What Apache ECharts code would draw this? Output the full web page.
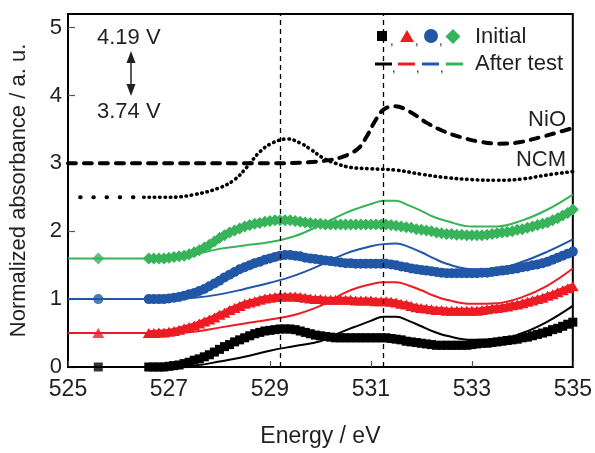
<!DOCTYPE html>
<html>
<head>
<meta charset="utf-8">
<script src="https://cdn.jsdelivr.net/npm/echarts@6/dist/echarts.min.js"></script>
<style>
html,body{margin:0;padding:0;background:#fff;}
#chart{width:595px;height:453px;}
</style>
</head>
<body>
<div id="chart"></div>
<script>
// ---------- data ----------
const energyInitial = [
  526.6,526.7,526.8,526.9,527.0,527.1,527.2,527.3,527.4,527.5,
  527.6,527.7,527.8,527.9,528.0,528.1,528.2,528.3,528.4,528.5,
  528.6,528.7,528.8,528.9,529.0,529.1,529.2,529.3,529.4,529.5,
  529.6,529.7,529.8,529.9,530.0,530.1,530.2,530.3,530.4,530.5,
  530.6,530.7,530.8,530.9,531.0,531.1,531.2,531.3,531.4,531.5,
  531.6,531.7,531.8,531.9,532.0,532.1,532.2,532.3,532.4,532.5,
  532.6,532.7,532.8,532.9,533.0,533.1,533.2,533.3,533.4,533.5,
  533.6,533.7,533.8,533.9,534.0,534.1,534.2,534.3,534.4,534.5,
  534.6,534.7,534.8,534.9,535.0];
const initialBlack = [
  0.00,0.00,0.00,0.00,0.01,0.02,0.03,0.05,0.07,0.10,
  0.12,0.15,0.18,0.22,0.26,0.30,0.33,0.37,0.40,0.43,
  0.46,0.49,0.51,0.53,0.54,0.55,0.56,0.56,0.56,0.55,
  0.53,0.51,0.49,0.47,0.46,0.45,0.44,0.43,0.43,0.43,
  0.43,0.43,0.43,0.43,0.43,0.43,0.43,0.43,0.42,0.41,
  0.40,0.38,0.37,0.36,0.35,0.34,0.33,0.32,0.32,0.32,
  0.32,0.32,0.32,0.32,0.33,0.34,0.35,0.35,0.36,0.37,
  0.38,0.39,0.40,0.41,0.43,0.44,0.46,0.48,0.50,0.52,
  0.55,0.57,0.60,0.63,0.66];
const initialRed = [
  0.50,0.50,0.51,0.51,0.52,0.53,0.55,0.57,0.59,0.61,
  0.64,0.67,0.70,0.73,0.77,0.80,0.84,0.87,0.90,0.93,
  0.95,0.97,0.99,1.01,1.02,1.03,1.04,1.04,1.04,1.04,
  1.03,1.02,1.01,1.00,1.00,0.99,0.99,0.99,0.99,0.99,
  0.99,0.98,0.98,0.98,0.98,0.97,0.97,0.97,0.96,0.95,
  0.93,0.92,0.90,0.88,0.87,0.86,0.85,0.84,0.84,0.83,
  0.83,0.83,0.83,0.83,0.83,0.83,0.84,0.85,0.86,0.87,
  0.88,0.89,0.91,0.92,0.94,0.96,0.98,1.00,1.02,1.05,
  1.07,1.10,1.13,1.16,1.19];
const initialBlue = [
  1.00,1.00,1.00,1.00,1.01,1.02,1.03,1.05,1.07,1.09,
  1.12,1.15,1.19,1.23,1.27,1.32,1.36,1.40,1.44,1.47,
  1.50,1.53,1.55,1.58,1.60,1.62,1.64,1.65,1.65,1.64,
  1.63,1.61,1.60,1.59,1.58,1.57,1.56,1.55,1.54,1.53,
  1.53,1.52,1.52,1.52,1.52,1.52,1.52,1.52,1.51,1.50,
  1.48,1.47,1.45,1.44,1.43,1.42,1.41,1.40,1.39,1.38,
  1.38,1.38,1.38,1.38,1.38,1.38,1.39,1.39,1.40,1.41,
  1.42,1.43,1.44,1.45,1.47,1.48,1.50,1.51,1.53,1.55,
  1.58,1.61,1.64,1.67,1.70];
const initialGreen = [
  1.60,1.60,1.60,1.60,1.61,1.62,1.63,1.64,1.66,1.69,
  1.72,1.76,1.80,1.85,1.90,1.94,1.98,2.01,2.04,2.07,
  2.09,2.11,2.12,2.14,2.15,2.16,2.16,2.16,2.16,2.15,
  2.14,2.13,2.12,2.11,2.11,2.10,2.10,2.10,2.10,2.10,
  2.10,2.10,2.10,2.10,2.10,2.10,2.10,2.10,2.09,2.08,
  2.07,2.06,2.05,2.03,2.02,2.01,2.00,1.98,1.97,1.96,
  1.96,1.95,1.95,1.94,1.94,1.94,1.94,1.95,1.96,1.97,
  1.98,1.99,2.00,2.02,2.03,2.05,2.07,2.09,2.11,2.13,
  2.16,2.19,2.23,2.27,2.32];
const loneMarkerEnergy = 525.6;
const loneMarkerValues = [0.0, 0.5, 1.0, 1.6];

const energyAfter = [525,526,527,527.5,528,528.5,529,529.5,530,530.25,530.5,530.75,531,531.25,531.5,531.75,532,532.25,532.5,533,533.5,534,534.5,535];
const afterBlack = [0,0,0,0.02,0.08,0.15,0.24,0.31,0.38,0.46,0.54,0.61,0.68,0.74,0.74,0.68,0.60,0.52,0.46,0.40,0.40,0.50,0.67,0.90];
const afterRed = [0.5,0.5,0.5,0.52,0.58,0.64,0.70,0.77,0.90,1.00,1.10,1.17,1.22,1.25,1.25,1.20,1.13,1.05,0.99,0.93,0.94,1.03,1.20,1.45];
const afterBlue = [1.0,1.0,1.0,1.02,1.07,1.15,1.24,1.35,1.50,1.59,1.67,1.73,1.78,1.81,1.82,1.77,1.69,1.60,1.52,1.44,1.45,1.55,1.70,1.88];
const afterGreen = [1.6,1.6,1.6,1.66,1.74,1.79,1.84,1.93,2.09,2.18,2.27,2.34,2.40,2.45,2.45,2.38,2.30,2.21,2.15,2.07,2.07,2.16,2.32,2.54];

const ncmSparseX = [525.24, 526.45];
const ncmSparseY = [2.5, 2.5];
const ncmX = [526.5,527.0,527.5,528.0,528.3,528.55,528.8,529.05,529.35,529.6,529.8,530.05,530.3,530.6,531.0,531.5,532.0,532.5,533.0,533.5,534.0,534.5,535.0];
const ncmY = [2.50,2.50,2.54,2.64,2.76,2.95,3.17,3.30,3.36,3.30,3.21,3.08,3.00,2.94,2.92,2.90,2.84,2.79,2.76,2.75,2.77,2.83,2.88];

const nioX = [525,527,529,529.6,530.1,530.45,530.75,530.92,531.08,531.25,531.48,531.77,532.1,532.42,532.76,533.15,533.54,533.94,534.33,534.72,535];
const nioY = [3.0,3.0,3.0,3.01,3.04,3.10,3.22,3.40,3.62,3.79,3.84,3.76,3.60,3.48,3.39,3.32,3.29,3.31,3.38,3.46,3.52];

const refLines = [529.2, 531.25];
const xTicks = [525, 527, 529, 531, 533, 535];
const yTicks = [0, 1, 2, 3, 4, 5];

// ---------- styles ----------
const FONT = '"Liberation Sans", Arial, Helvetica, sans-serif';
const TXT = '#231f20';
const C = {black:'#000000', red:'#ed1c24', blue:'#2257a7', green:'#37b35a'};
const zip = (xs, ys) => xs.map((x, i) => [x, ys[i]]);

function initialSeries(name, ys, color, symbol, size) {
  return {
    name, type:'line', data: zip(energyInitial, ys), smooth:0.3,
    symbol, symbolSize:size, showSymbol:true, showAllSymbol:true,
    itemStyle:{color}, lineStyle:{color, width:6}, z:3, animation:false
  };
}
function afterSeries(name, ys, color) {
  return {
    name, type:'line', data: zip(energyAfter, ys), smooth:0.4,
    symbol:'none', lineStyle:{color, width:2}, z:4, animation:false
  };
}

const loneSymbols = ['rect','triangle','circle','diamond'];
const loneSizes = [9,[12,10],10,[12,12]];
const loneColors = [C.black, C.red, C.blue, C.green];

const series = [
  {
    name:'NiO', type:'line', data: zip(nioX, nioY), smooth:0.4, symbol:'none',
    lineStyle:{color:'#000', width:4, type:[8,8], cap:'round'}, z:2, animation:false,
    markLine:{
      silent:true, symbol:'none', label:{show:false}, animation:false,
      lineStyle:{color:'#000', width:1.3, type:[5,4]},
      data: refLines.map(v => ({xAxis:v}))
    }
  },
  {
    name:'NCM sparse', type:'line', data: zip(ncmSparseX, ncmSparseY), symbol:'none',
    lineStyle:{color:'#000', width:4, type:[0.5,12.7], cap:'round'}, z:2, animation:false
  },
  {
    name:'NCM', type:'line', data: zip(ncmX, ncmY), smooth:0.4, symbol:'none',
    lineStyle:{color:'#000', width:3.6, type:[0.5,4.8], cap:'round'}, z:2, animation:false
  },
  initialSeries('Initial black', initialBlack, C.black, 'rect', 9),
  initialSeries('Initial red', initialRed, C.red, 'triangle', [12,10]),
  initialSeries('Initial blue', initialBlue, C.blue, 'circle', 10),
  initialSeries('Initial green', initialGreen, C.green, 'diamond', [12,12]),
  afterSeries('After black', afterBlack, C.black),
  afterSeries('After red', afterRed, C.red),
  afterSeries('After blue', afterBlue, C.blue),
  afterSeries('After green', afterGreen, C.green),
  {
    name:'Lone markers', type:'scatter', z:5, animation:false,
    data: loneMarkerValues.map((v, i) => ({
      value:[loneMarkerEnergy, v], symbol:loneSymbols[i], symbolSize:loneSizes[i],
      itemStyle:{color:loneColors[i]}
    }))
  }
];

// ---------- annotations & legend ----------
const textEl = (text, x, y, align, size) => ({
  type:'text', x, y, z:10,
  style:{text, fill:TXT, font: size + 'px ' + FONT, textAlign:align, textVerticalAlign:'middle'}
});
const graphic = [
  textEl('4.19 V', 97, 38, 'left', 22),
  textEl('3.74 V', 97, 112, 'left', 22),
  {type:'line', z:10, shape:{x1:131, y1:58, x2:131, y2:89}, style:{stroke:'#231f20', lineWidth:1.5}},
  {type:'polygon', z:10, shape:{points:[[131,51],[126.5,63],[135.5,63]]}, style:{fill:'#231f20'}},
  {type:'polygon', z:10, shape:{points:[[131,96],[126.5,84],[135.5,84]]}, style:{fill:'#231f20'}},
  textEl('NiO', 566, 120, 'right', 22),
  textEl('NCM', 566, 160, 'right', 22),
  // legend row 1 (markers)
  {type:'rect', z:10, shape:{x:377, y:31, width:10, height:10}, style:{fill:C.black}},
  textEl(',', 390, 41, 'left', 13),
  {type:'polygon', z:10, shape:{points:[[407,30],[400,42],[414,42]]}, style:{fill:C.red}},
  textEl(',', 415, 41, 'left', 13),
  {type:'circle', z:10, shape:{cx:431, cy:36, r:7}, style:{fill:C.blue}},
  textEl(',', 439, 41, 'left', 13),
  {type:'polygon', z:10, shape:{points:[[453,29],[460.5,36.5],[453,44],[445.5,36.5]]}, style:{fill:C.green}},
  textEl('Initial', 475, 37, 'left', 22),
  // legend row 2 (lines)
  {type:'line', z:10, shape:{x1:375, y1:64, x2:392, y2:64}, style:{stroke:C.black, lineWidth:3}},
  textEl(',', 392, 68, 'left', 13),
  {type:'line', z:10, shape:{x1:398, y1:64, x2:415, y2:64}, style:{stroke:C.red, lineWidth:3}},
  textEl(',', 416, 68, 'left', 13),
  {type:'line', z:10, shape:{x1:422, y1:64, x2:439, y2:64}, style:{stroke:C.blue, lineWidth:3}},
  textEl(',', 440, 68, 'left', 13),
  {type:'line', z:10, shape:{x1:446, y1:64, x2:463, y2:64}, style:{stroke:C.green, lineWidth:3}},
  textEl('After test', 475, 64, 'left', 22)
];

const chart = echarts.init(document.getElementById('chart'), null, {renderer:'canvas'});
chart.setOption({
  animation:false,
  backgroundColor:'#fff',
  grid:{left:66, right:21, top:14, bottom:81, show:true, borderColor:'#000', borderWidth:2, backgroundColor:'transparent'},
  xAxis:{
    type:'value', min:xTicks[0], max:xTicks[xTicks.length-1], interval:2,
    axisLine:{lineStyle:{color:'#000', width:2}},
    axisTick:{inside:true, length:6, lineStyle:{color:'#555', width:1.2}},
    axisLabel:{color:TXT, fontSize:23, fontFamily:FONT, margin:11},
    splitLine:{show:false},
    name:'Energy / eV', nameLocation:'middle', nameGap:58,
    nameTextStyle:{color:TXT, fontSize:23, fontFamily:FONT}
  },
  yAxis:{
    type:'value', min:yTicks[0], max:5.2, interval:1,
    axisLine:{lineStyle:{color:'#000', width:2}},
    axisTick:{inside:true, length:7, lineStyle:{color:'#555', width:1.2}},
    axisLabel:{color:TXT, fontSize:22, fontFamily:FONT, margin:6, showMaxLabel:false},
    splitLine:{show:false},
    name:'Normalized absorbance / a. u.', nameLocation:'middle', nameGap:38,
    nameTextStyle:{color:TXT, fontSize:22, fontFamily:FONT}
  },
  series,
  graphic
});
</script>
</body>
</html>
